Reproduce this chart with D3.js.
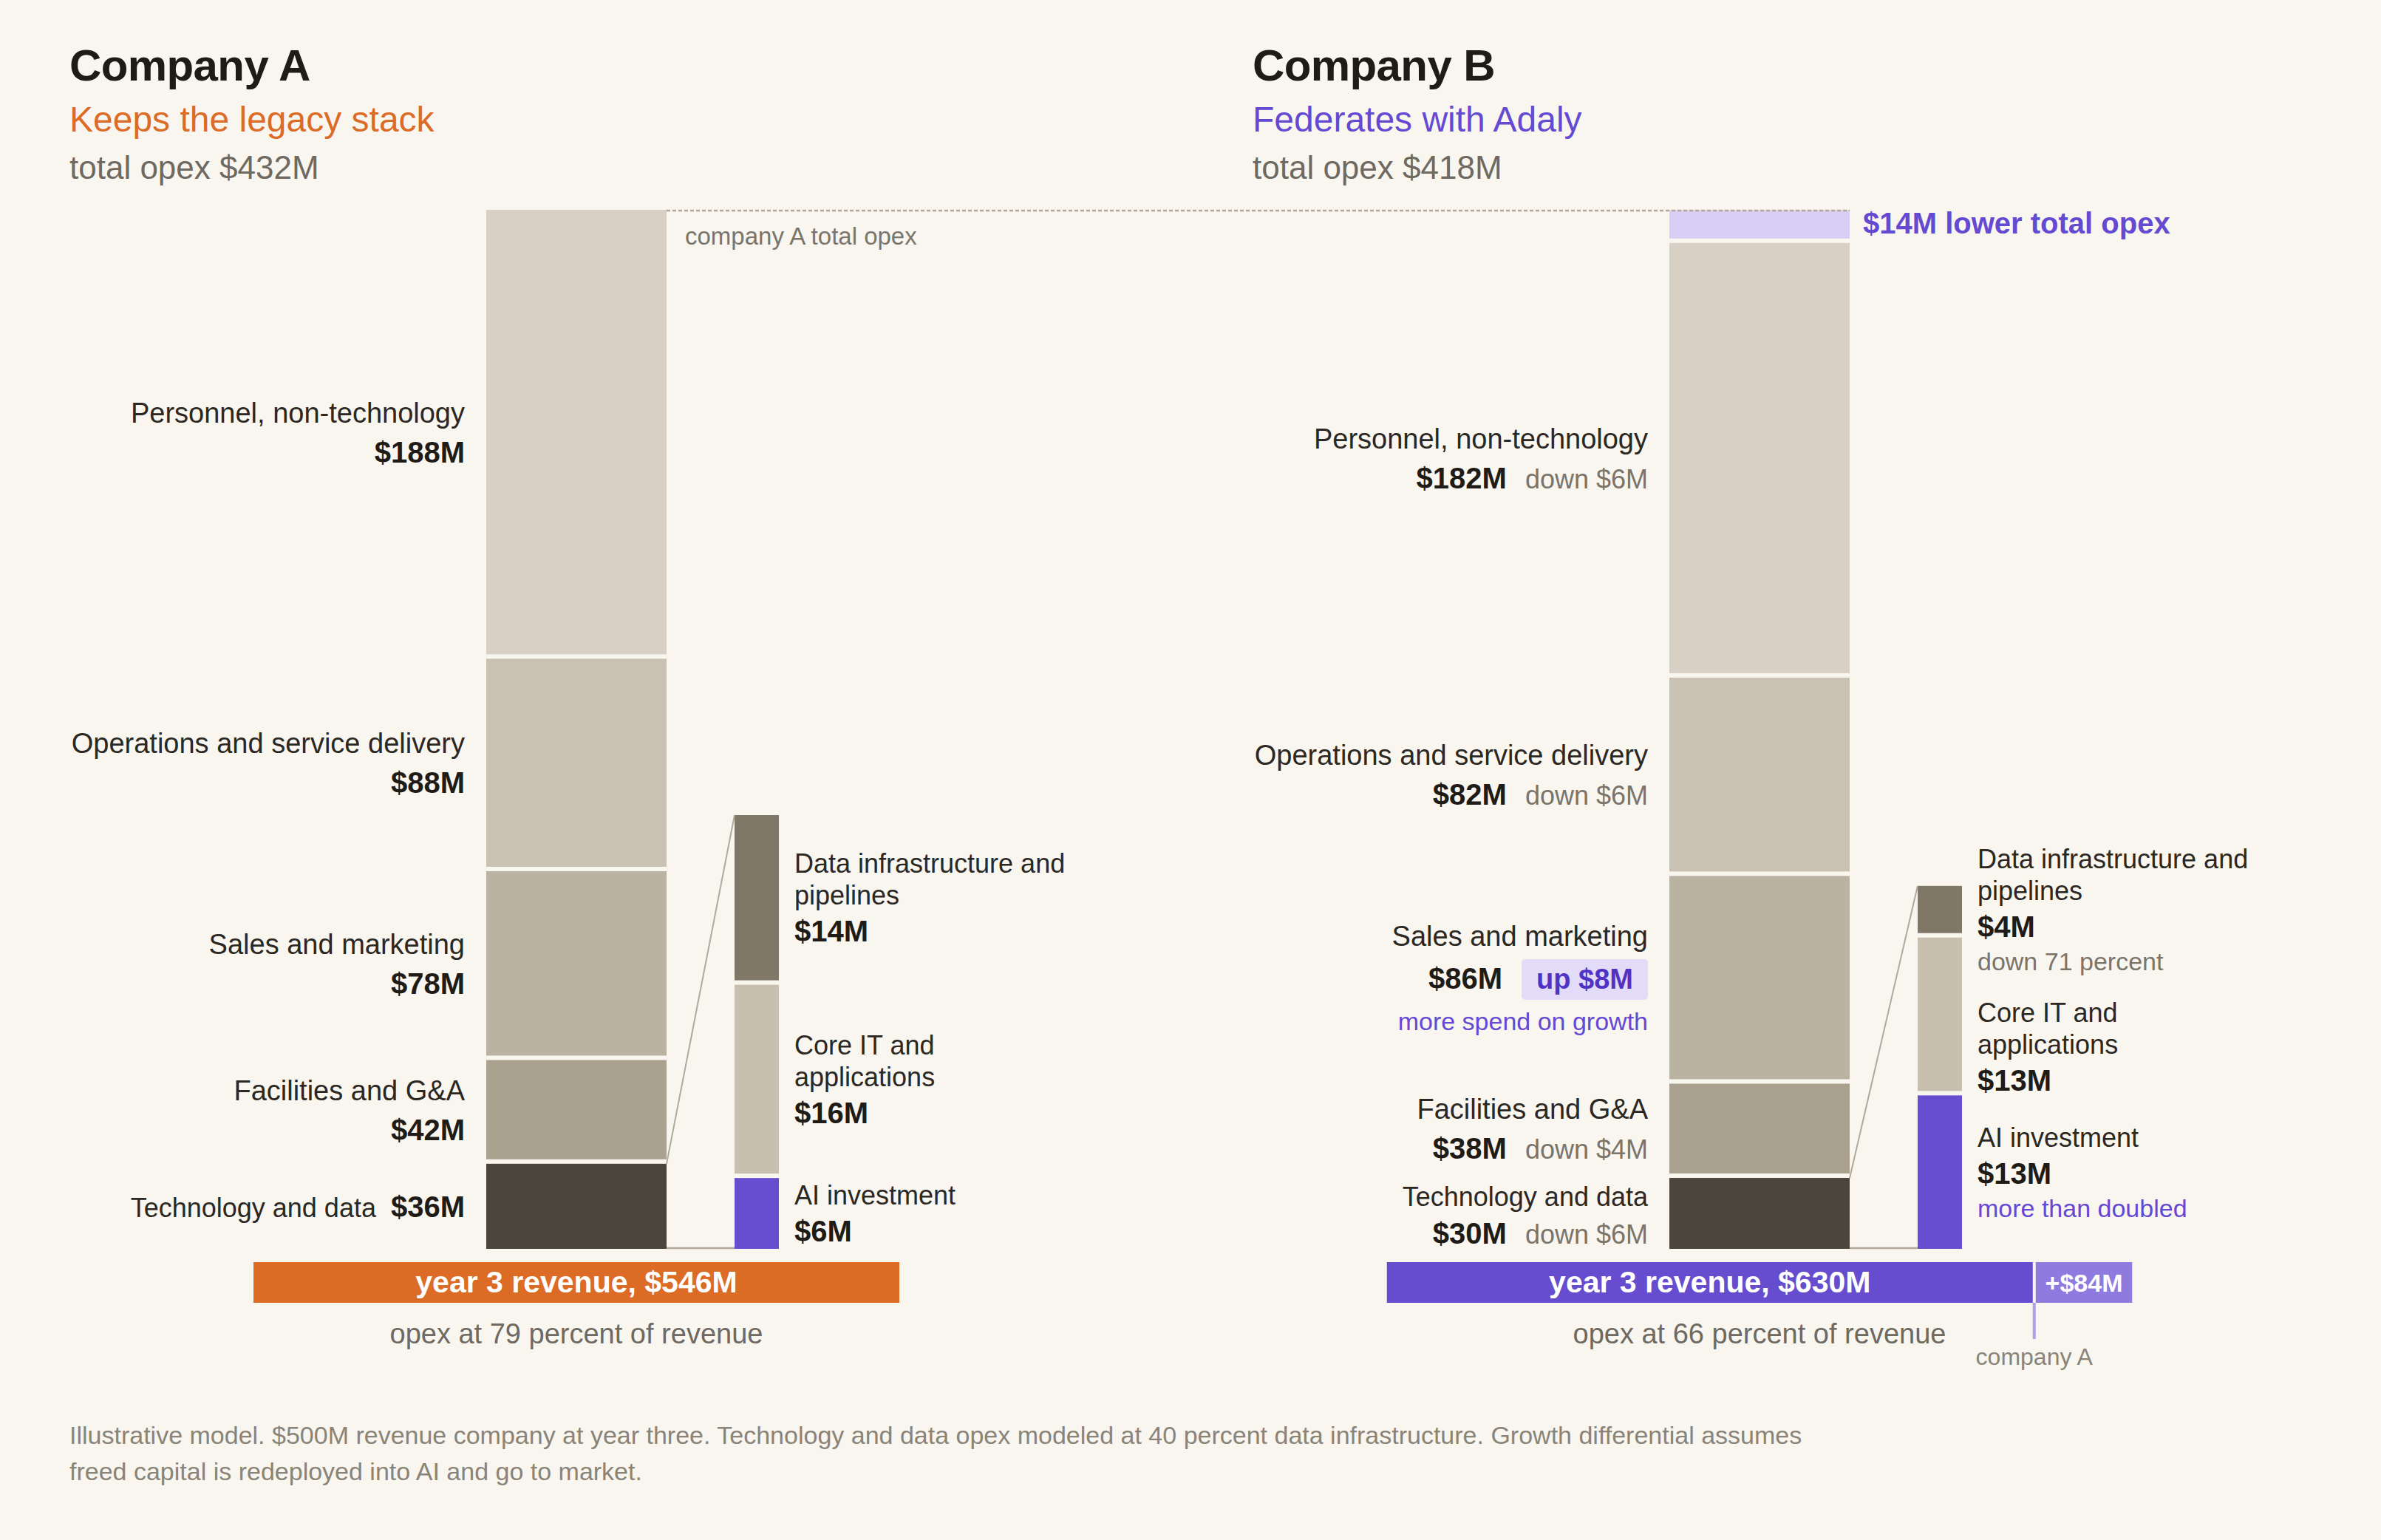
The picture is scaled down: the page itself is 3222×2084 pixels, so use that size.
<!DOCTYPE html>
<html><head><meta charset="utf-8">
<script src="https://cdn.jsdelivr.net/npm/d3@7"></script>
<style>
html,body{margin:0;padding:0;background:#f9f6f0;}
svg{display:block;font-family:"Liberation Sans",Arial,Helvetica,sans-serif;}
</style></head><body>
<svg id="chart" width="3222" height="2084"></svg>
<script>
// ---------------- data ----------------
const companies = ["Company A", "Company B"];
const strategies = ["Keeps the legacy stack", "Federates with Adaly"];
const categories = ["Personnel, non-technology", "Operations and service delivery", "Sales and marketing", "Facilities and G&A", "Technology and data"];
const opexA = [188, 88, 78, 42, 36];
const opexB = [182, 82, 86, 38, 30];
const techParts = [["Data infrastructure and", "pipelines"], ["Core IT and", "applications"], ["AI investment"]];
const techA = [14, 16, 6];
const techB = [4, 13, 13];
const techNotesB = ["down 71 percent", "", "more than doubled"];
const revenue = [546, 630];
const salesNoteB = "more spend on growth";
const footnote = ["Illustrative model. $500M revenue company at year three. Technology and data opex modeled at 40 percent data infrastructure. Growth differential assumes",
  "freed capital is redeployed into AI and go to market."];

// ---------------- style ----------------
const C = {
  bg: "#f9f6f0", ink: "#1f1b17", name: "#2b2722", gray: "#6e6961", lgray: "#7a746b", fgray: "#8a8478",
  orange: "#dc6b26", purple: "#664dcf", purpleText: "#6449d3", purpleDark: "#5033c4",
  purpleLight: "#d9cef5", purpleExtra: "#8f7ae0", marker: "#ae9de9", badge: "#e3dcf8", rule: "#b1a999"
};
const segColors = ["#d8d0c4", "#c9c1b2", "#bbb3a2", "#aba18f", "#4c453c"];
const subColors = ["#807767", "#c8bfae", "#674dd0"];
const fmt = v => "$" + v + "M";

const svg = d3.select("#chart");
svg.append("rect").attr("width", 3222).attr("height", 2084).attr("fill", C.bg);

const GAP = 6;
const BASE = 1690, TOP = 284;
const totalA = d3.sum(opexA);
// heights scale (stack of 5 segments separated by gaps spans TOP..BASE for company A)
const hMain = d3.scaleLinear().domain([0, totalA]).range([0, (BASE - TOP) - GAP * (opexA.length - 1)]);
const hSub = d3.scaleLinear().domain([0, opexA[4]]).range([0, 587 - GAP * (techA.length - 1)]);
const xr = d3.scaleLinear().domain([0, revenue[0]]).range([0, 874]);

const panelDX = [0, 1601];

function txt(g, x, yy, s, size, color, weight, anchor) {
  return g.append("text").attr("x", x).attr("y", yy).text(s)
    .attr("font-size", size).attr("fill", color)
    .attr("font-weight", weight || "normal").attr("text-anchor", anchor || "start");
}

function stack(vals, h) {
  let cur = BASE;
  const out = vals.map((v, k) => ({ k, v }));
  for (let k = vals.length - 1; k >= 0; k--) {
    out[k].y1 = cur;
    out[k].y0 = cur - h(vals[k]);
    cur = out[k].y0 - GAP;
  }
  return out;
}

function drawPanel(i, vals, tech) {
  const dx = panelDX[i];
  const g = svg.append("g");
  // header
  txt(g, 94 + dx, 109, companies[i], 60, C.ink, "bold").attr("letter-spacing", -0.6);
  txt(g, 94 + dx, 178, strategies[i], 48, i === 0 ? C.orange : C.purpleText);
  txt(g, 94 + dx, 242, "total opex " + fmt(d3.sum(vals)), 44, C.gray);

  const bx = 658 + dx, bw = 244, bRight = bx + bw;
  const sx = 994 + dx, sw = 60;
  const labelRight = 629 + dx, subLabelX = 1075 + dx;

  const segs = stack(vals, hMain);
  g.selectAll("rect.seg").data(segs).join("rect")
    .attr("x", bx).attr("width", bw)
    .attr("y", d => d.y0).attr("height", d => d.y1 - d.y0)
    .attr("fill", d => segColors[d.k]);

  const total = d3.sum(vals);
  if (total < totalA) {
    g.append("rect").attr("x", bx).attr("width", bw)
      .attr("y", TOP).attr("height", segs[0].y0 - GAP - TOP)
      .attr("fill", C.purpleLight);
    txt(g, bRight + 18, 316, fmt(totalA - total) + " lower total opex", 40, C.purpleText, "bold");
  }

  // sub-breakdown of technology
  const subs = stack(tech, hSub);
  g.selectAll("rect.sub").data(subs).join("rect")
    .attr("x", sx).attr("width", sw)
    .attr("y", d => d.y0).attr("height", d => d.y1 - d.y0)
    .attr("fill", d => subColors[d.k]);
  // connectors
  g.append("line").attr("x1", bRight).attr("y1", segs[4].y0).attr("x2", sx).attr("y2", subs[0].y0)
    .attr("stroke", C.rule).attr("stroke-width", 2);
  g.append("line").attr("x1", bRight).attr("y1", BASE - 1).attr("x2", sx).attr("y2", BASE - 1)
    .attr("stroke", C.rule).attr("stroke-width", 2.5);

  // ---- main labels ----
  let prevBottom = -Infinity;
  segs.forEach(d => {
    const mid = (d.y0 + d.y1) / 2;
    const delta = i === 1 ? vals[d.k] - opexA[d.k] : 0;
    const single = i === 0 && d.k === 4;
    const isTech = d.k === 4;
    const nameSize = isTech ? 36 : 38;
    const badge = delta > 0;
    const note = (i === 1 && d.k === 2) ? salesNoteB : null;
    if (single) {
      const b = mid + 15;
      const vt = txt(g, labelRight, b, fmt(d.v), 40, C.ink, "bold", "end");
      const w = vt.node().getComputedTextLength();
      txt(g, labelRight - w - 20, b, categories[d.k], nameSize, C.name, "normal", "end");
      prevBottom = b;
      return;
    }
    let gaps = [badge ? 58 : 54];
    if (note) gaps.push(56);
    let span = d3.sum(gaps);
    let b1 = mid + 14 - span / 2;
    const bottom = b1 + span;
    if (b1 - 27 < prevBottom + 37) {
      b1 = prevBottom + 37 + 27;
      const sp = Math.max(46, bottom - b1);
      gaps = [sp];
      span = sp;
    }
    prevBottom = b1 + span;

    txt(g, labelRight, b1, categories[d.k], nameSize, C.name, "normal", "end");
    const b2 = b1 + gaps[0];
    let vx = labelRight;
    if (badge) {
      const t = txt(g, labelRight - 20, b2, "up " + fmt(delta), 38, C.purpleDark, "bold", "end");
      const w = t.node().getComputedTextLength();
      g.insert("rect", () => t.node()).attr("x", labelRight - 20 - w - 20).attr("y", b2 - 40)
        .attr("width", w + 40).attr("height", 55).attr("rx", 5).attr("fill", C.badge);
      vx = labelRight - w - 40 - 26;
    } else if (delta < 0) {
      const t = txt(g, labelRight, b2, "down " + fmt(-delta), 36, C.lgray, "normal", "end");
      vx = labelRight - t.node().getComputedTextLength() - 25;
    }
    txt(g, vx, b2, fmt(d.v), 40, C.ink, "bold", "end");
    if (note) txt(g, labelRight, b2 + gaps[1], note, 34, C.purpleText, "normal", "end");
  });

  // ---- sub labels ----
  let prevSub = -Infinity;
  subs.forEach(d => {
    const mid = (d.y0 + d.y1) / 2;
    const names = techParts[d.k];
    const note = i === 1 ? techNotesB[d.k] : "";
    const lines = [];
    names.forEach((s, j) => lines.push({ s, gap: j === 0 ? 0 : 43, size: 36, color: C.name, w: "normal" }));
    lines.push({ s: fmt(d.v), gap: 50, size: 40, color: C.ink, w: "bold" });
    if (note) lines.push({ s: note, gap: 45, size: 34, color: d.k === 2 ? C.purpleText : C.lgray, w: "normal" });
    const span = d3.sum(lines, l => l.gap);
    let b1 = mid + 13 - span / 2;
    if (b1 - 26 < prevSub + 44) b1 = prevSub + 44 + 26;
    let yy = b1;
    lines.forEach(l => { yy += l.gap; txt(g, subLabelX, yy, l.s, l.size, l.color, l.w); });
    prevSub = yy;
  });

  // ---- revenue bar ----
  const c = bx + bw / 2;
  const wTot = xr(revenue[i]);
  const x0 = c - wTot / 2;
  const wBase = xr(revenue[0]);
  const fillMain = i === 0 ? C.orange : C.purple;
  g.append("rect").attr("x", x0).attr("y", 1708).attr("width", i === 0 ? wTot : wBase).attr("height", 55).attr("fill", fillMain);
  txt(g, x0 + (i === 0 ? wTot : wBase) / 2, 1749, "year 3 revenue, " + fmt(revenue[i]), 41, "#ffffff", "bold", "middle");
  if (i === 1) {
    const xm = x0 + wBase;
    g.append("rect").attr("x", xm + 4).attr("y", 1708).attr("width", wTot - wBase - 4).attr("height", 55).attr("fill", C.purpleExtra);
    txt(g, xm + 4 + (wTot - wBase - 4) / 2, 1748, "+" + fmt(revenue[1] - revenue[0]), 34, "#ffffff", "bold", "middle");
    g.append("rect").attr("x", xm).attr("y", 1763).attr("width", 4).attr("height", 49).attr("fill", C.marker);
    txt(g, xm + 2, 1847, "company A", 32, C.fgray, "normal", "middle");
  }
  const pct = Math.round(d3.sum(vals) / revenue[i] * 100);
  txt(g, c, 1818, "opex at " + pct + " percent of revenue", 38, C.gray, "normal", "middle");
}

drawPanel(0, opexA, techA);
drawPanel(1, opexB, techB);

// reference dashed line for company A total
svg.append("line").attr("x1", 902).attr("x2", 2503).attr("y1", TOP + 1).attr("y2", TOP + 1)
  .attr("stroke", C.rule).attr("stroke-width", 2.5).attr("stroke-dasharray", "5,3");
txt(svg, 927, 331, "company A total opex", 33, C.lgray);

// footnote
footnote.forEach((s, j) => txt(svg, 94, 1954 + j * 49, s, 34, C.fgray));
</script>
</body></html>
